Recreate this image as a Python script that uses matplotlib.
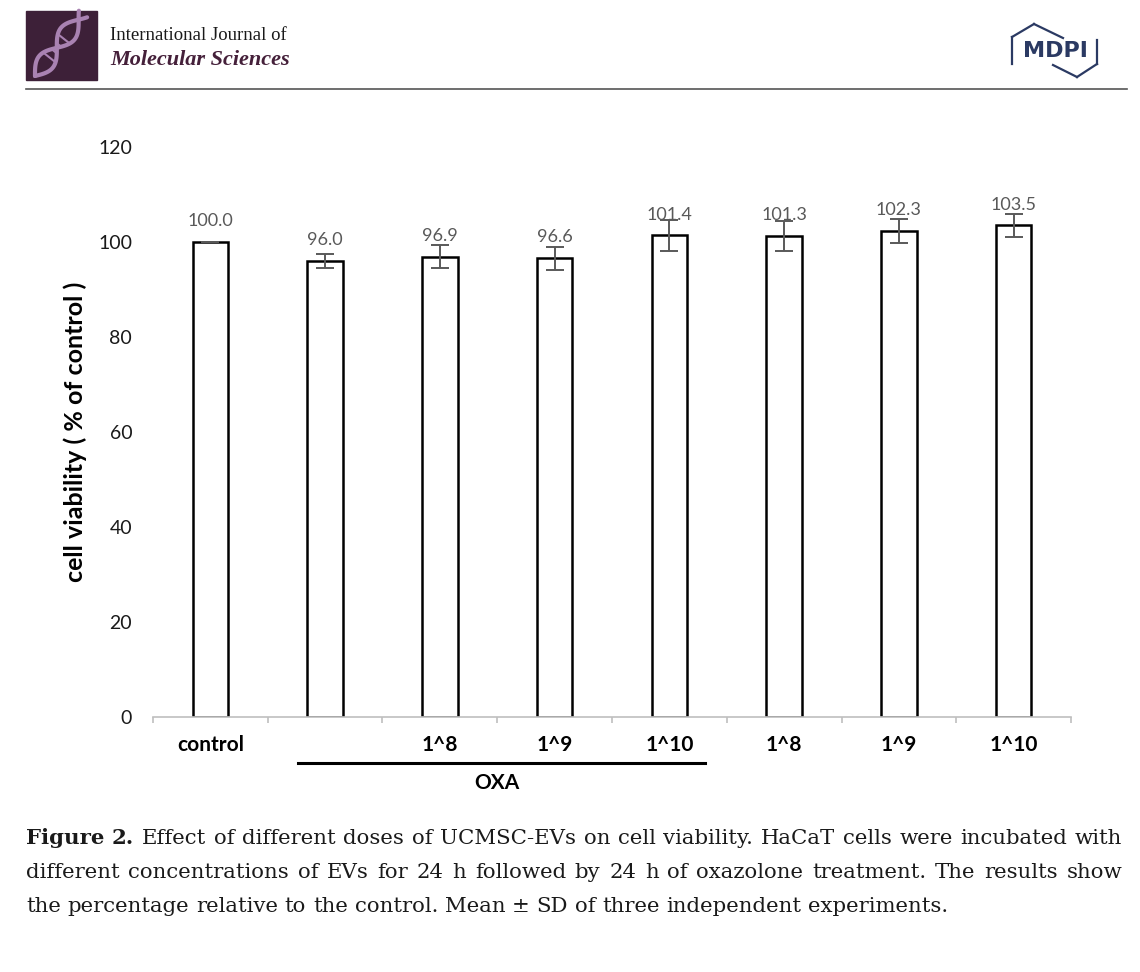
import numpy as np
import matplotlib.pyplot as plt
from matplotlib.patches import Rectangle

# chart data
categories = ["control", "", "1^8", "1^9", "1^10", "1^8", "1^9", "1^10"]
viability = [100.0, 96.0, 96.9, 96.6, 101.4, 101.3, 102.3, 103.5]
sd = [0.0, 1.5, 2.4, 2.4, 3.3, 3.2, 2.6, 2.5]
yticks = [0, 20, 40, 60, 80, 100, 120]
group_label = "OXA"
group_first, group_last = 1, 4

caption = [
    [("Figure 2.", "bold"),
     ("Effect of different doses of UCMSC-EVs on cell viability. HaCaT cells were incubated with", "normal")],
    [("different concentrations of EVs for 24 h followed by 24 h of oxazolone treatment. The results show", "normal")],
    [("the percentage relative to the control. Mean \u00b1 SD of three independent experiments.", "normal")],
]

plt.rcParams['font.family'] = ['Lato', 'DejaVu Sans']
fig = plt.figure(figsize=(11.4, 9.72), dpi=100)

# ---- main chart ----
ax = fig.add_axes([0.1342, 0.2623, 0.8053, 0.5864])
x = np.arange(len(categories))
ax.bar(x, viability, width=0.31, color='white', edgecolor='black', linewidth=1.8, zorder=2)
ax.errorbar(x, viability, yerr=sd, fmt='none', ecolor='#595959', elinewidth=1.4,
            capsize=6.5, capthick=1.4, zorder=3)
for xi, v in zip(x, viability):
    ax.annotate("{:.1f}".format(v), (xi, v), xytext=(0, 15), textcoords='offset points',
                ha='center', va='center', fontsize=13, color='#595959')

ax.set_xlim(-0.5, len(categories) - 0.5)
ax.set_ylim(0, 120)
for side in ['top', 'right', 'left']:
    ax.spines[side].set_visible(False)
ax.spines['bottom'].set_color('#bfbfbf')
ax.spines['bottom'].set_linewidth(1.2)

ax.set_yticks(yticks)
ax.tick_params(axis='y', length=0, pad=15, labelsize=14, labelcolor='#1a1a1a')
ax.set_xticks(x, categories, fontweight='bold', fontsize=15)
ax.tick_params(axis='x', which='major', length=0, pad=13)
ax.set_xticks(np.arange(-0.5, len(categories)), minor=True)
ax.tick_params(axis='x', which='minor', length=4, width=1.2, color='#bfbfbf')
ax.set_ylabel("cell viability ( % of control )", fontsize=18, fontweight='bold', labelpad=8)

# group underline and label
trans = ax.get_xaxis_transform()
ax.plot([group_first - 0.24, group_last + 0.31], [-0.081, -0.081], color='black', lw=2.2,
        transform=trans, clip_on=False)
ax.text((group_first + group_last) / 2, -0.116, group_label, transform=trans,
        ha='center', va='center', fontsize=15, fontweight='bold')

# ---- page header and caption, in pixel coordinates ----
page = fig.add_axes([0, 0, 1, 1], zorder=-1)
page.set_xlim(0, 1140)
page.set_ylim(972, 0)
page.axis('off')

page.add_patch(Rectangle((26, 11), 71, 69, color='#3d2038'))
t = np.linspace(0, 1, 100)
cx, cy = 35 + 48 * t, 76 - 62 * t
for phase in [0, np.pi]:
    off = 9 * np.sin(2 * np.pi * 1.1 * t + phase)
    page.plot(cx + off * 0.78, cy + off * 0.62, color='#a982b2', lw=3, solid_capstyle='round')
for tr in np.linspace(0.3, 0.6, 4):
    off = 9 * np.sin(2 * np.pi * 1.1 * tr)
    page.plot([35 + 48 * tr - off * 0.78, 35 + 48 * tr + off * 0.78],
              [76 - 62 * tr - off * 0.62, 76 - 62 * tr + off * 0.62], color='#a982b2', lw=1.5)

page.text(110, 35, "International Journal of", family='Liberation Serif', fontsize=13.5,
          va='center', color='#1a1a1a')
page.text(110, 60, "Molecular Sciences", family='Liberation Serif', fontsize=16,
          style='italic', weight='bold', va='center', color='#45203a')
page.plot([26, 1127], [89, 89], color='#555555', lw=1.2)

# MDPI logo
navy = '#2b3a63'
page.text(1055, 51, "MDPI", family='DejaVu Sans', fontsize=16, weight='bold',
          ha='center', va='center', color=navy)
for seg in [[(1012, 37), (1012, 64)], [(1012, 37), (1034, 24)], [(1034, 24), (1063, 38)],
            [(1097, 40), (1097, 64)], [(1097, 64), (1077, 77)], [(1077, 77), (1053, 65)]]:
    sx, sy = zip(*seg)
    page.plot(sx, sy, color=navy, lw=1.6)

# caption, justified like the journal page
renderer = fig.canvas.get_renderer()
cap_size = 15.3
probe_a = page.text(0, 0, "x x", family='DejaVu Serif', fontsize=cap_size)
probe_b = page.text(0, 0, "xx", family='DejaVu Serif', fontsize=cap_size)
space_w = probe_a.get_window_extent(renderer).width - probe_b.get_window_extent(renderer).width
probe_a.remove()
probe_b.remove()
for i, line in enumerate(caption):
    y = 838 + 34 * i
    words = [(w, weight) for txt, weight in line for w in txt.split()]
    items = [page.text(0, y, w, family='DejaVu Serif', fontsize=cap_size, weight=wt,
                       va='center', color='#1a1a1a') for w, wt in words]
    widths = [it.get_window_extent(renderer).width for it in items]
    if i < len(caption) - 1:
        gap = (1122 - 26 - sum(widths)) / (len(items) - 1)
    else:
        gap = space_w
    xpos = 26
    for it, wd in zip(items, widths):
        it.set_x(xpos)
        xpos += wd + gap

fig.savefig("out.png", dpi=100)
